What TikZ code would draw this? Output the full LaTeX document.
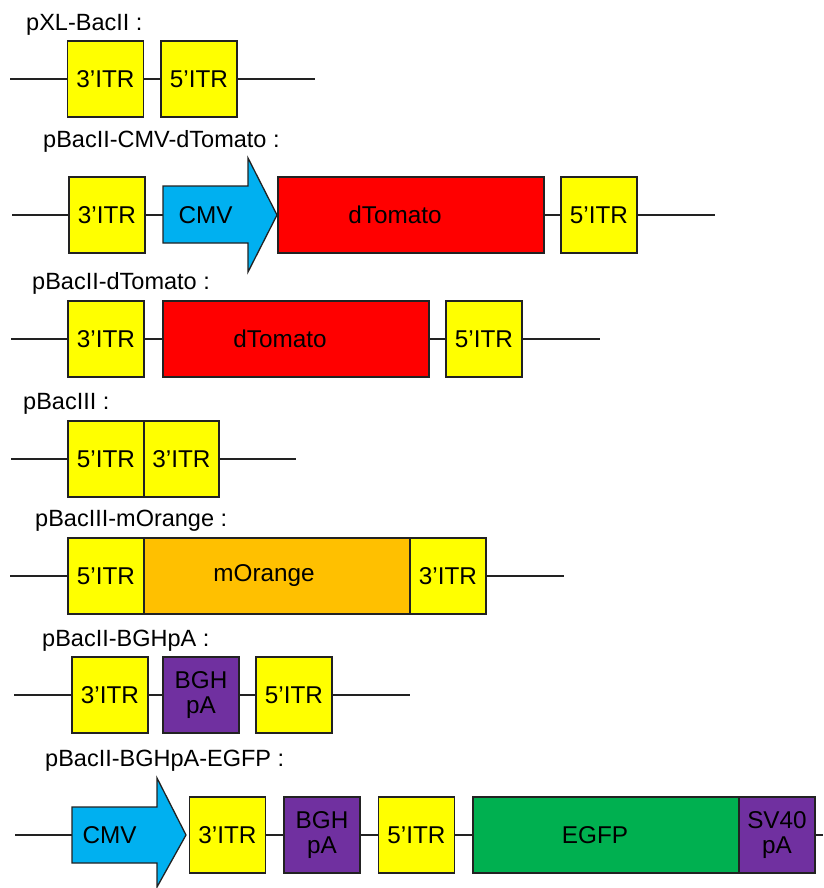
\documentclass[tikz,border=0pt]{standalone}
\usepackage{fontspec}
\setmainfont{Liberation Sans}
\definecolor{itrY}{HTML}{FFFF00}
\definecolor{tomR}{HTML}{FF0000}
\definecolor{cmvB}{HTML}{00B0F0}
\definecolor{oraO}{HTML}{FFC000}
\definecolor{purP}{HTML}{7030A0}
\definecolor{grnG}{HTML}{00B050}
\definecolor{edgeK}{HTML}{222222}
\begin{document}
\begin{tikzpicture}[x=1pt,y=-1pt,
  every node/.style={font=\fontsize{24.3}{24.5}\selectfont, inner sep=0pt},
  blk/.style={draw=edgeK, line width=1.3pt, minimum height=76pt, anchor=center},
  itrbox/.style={blk, fill=itrY, minimum width=76pt},
  genebox/.style={blk, minimum width=266pt},
  pabox/.style={blk, fill=purP, minimum width=76pt, align=center},
  arrowpath/.style={draw=edgeK, line width=1.3pt, fill=cmvB, line join=miter},
  arrowtext/.style={minimum width=85pt, minimum height=56pt},
  bb/.style={line width=1.3pt, edgeK},
  title/.style={anchor=base west, font=\fontsize{23.5}{24}\selectfont}]
\useasboundingbox (0,0) rectangle (823,888);

% Row 1
\node[title] (t1) at (26,31) {pXL-BacII :};
\node[itrbox] (a1) at (105.5,79) {3’ITR};
\node[itrbox] (a2) at (199,79) {5’ITR};
\coordinate (a0) at (10,79);
\coordinate (a3) at (315,79);
\draw[bb] (a0) -- (a1.west) (a1.east) -- (a2.west) (a2.east) -- (a3);

% Row 2
\node[title] (t2) at (43,147) {pBacII-CMV-dTomato :};
\node[itrbox] (b1) at (107,215) {3’ITR};
\draw[arrowpath] (163,186) -- (248,186) -- (248,158) -- (277,215) -- (248,272) -- (248,243) -- (163,243) -- cycle;
\node[arrowtext] (b2) at (205.5,215) {CMV};
\node[genebox, fill=tomR] (b3) at (411,215) {dTomato\hspace*{32pt}};
\node[itrbox] (b4) at (599,215) {5’ITR};
\coordinate (b0) at (12,215);
\coordinate (b5) at (715,215);
\draw[bb] (b0) -- (b1.west) (b1.east) -- (b2.west) (b3.east) -- (b4.west) (b4.east) -- (b5);

% Row 3
\node[title] (t3) at (32,289) {pBacII-dTomato :};
\node[itrbox] (c1) at (106,339) {3’ITR};
\node[genebox, fill=tomR] (c2) at (296,339) {dTomato\hspace*{32pt}};
\node[itrbox] (c3) at (484,339) {5’ITR};
\coordinate (c0) at (11,339);
\coordinate (c4) at (600,339);
\draw[bb] (c0) -- (c1.west) (c1.east) -- (c2.west) (c2.east) -- (c3.west) (c3.east) -- (c4);

% Row 4
\node[title] (t4) at (23,409) {pBacIII :};
\node[itrbox] (d1) at (106,459) {5’ITR};
\node[itrbox, minimum width=75pt] (d2) at (181.5,459) {3’ITR};
\coordinate (d0) at (11,459);
\coordinate (d3) at (296,459);
\draw[bb] (d0) -- (d1.west) (d2.east) -- (d3);

% Row 5
\node[title] (t5) at (35,526) {pBacIII-mOrange :};
\node[itrbox] (e1) at (106,576) {5’ITR};
\node[genebox, fill=oraO] (e2) at (277,576) {mOrange\hspace*{26pt}};
\node[itrbox] (e3) at (448,576) {3’ITR};
\coordinate (e0) at (10,576);
\coordinate (e4) at (564,576);
\draw[bb] (e0) -- (e1.west) (e3.east) -- (e4);

% Row 6
\node[title] (t6) at (42,646) {pBacII-BGHpA :};
\node[itrbox] (f1) at (110,695) {3’ITR};
\node[pabox] (f2) at (201,695) {BGH\\pA};
\node[itrbox] (f3) at (294,695) {5’ITR};
\coordinate (f0) at (14,695);
\coordinate (f4) at (410,695);
\draw[bb] (f0) -- (f1.west) (f1.east) -- (f2.west) (f2.east) -- (f3.west) (f3.east) -- (f4);

% Row 7
\node[title] (t7) at (45,766) {pBacII-BGHpA-EGFP :};
\draw[arrowpath] (72,807) -- (157,807) -- (157,778) -- (186,835) -- (157,887) -- (157,863) -- (72,863) -- cycle;
\node[arrowtext] (g1) at (114.5,835) {CMV\hspace*{10pt}};
\node[itrbox] (g2) at (227.5,835) {3’ITR};
\node[pabox] (g3) at (322,835) {BGH\\pA};
\node[itrbox] (g4) at (416.5,835) {5’ITR};
\node[genebox, fill=grnG] (g5) at (606,835) {EGFP\hspace*{22pt}};
\node[pabox] (g6) at (777,835) {SV40\\pA};
\coordinate (g0) at (15,835);
\coordinate (g7) at (823,835);
\draw[bb] (g0) -- (g1.west) (g2.east) -- (g3.west) (g3.east) -- (g4.west) (g4.east) -- (g5.west) (g6.east) -- (g7);
\end{tikzpicture}
\end{document}
